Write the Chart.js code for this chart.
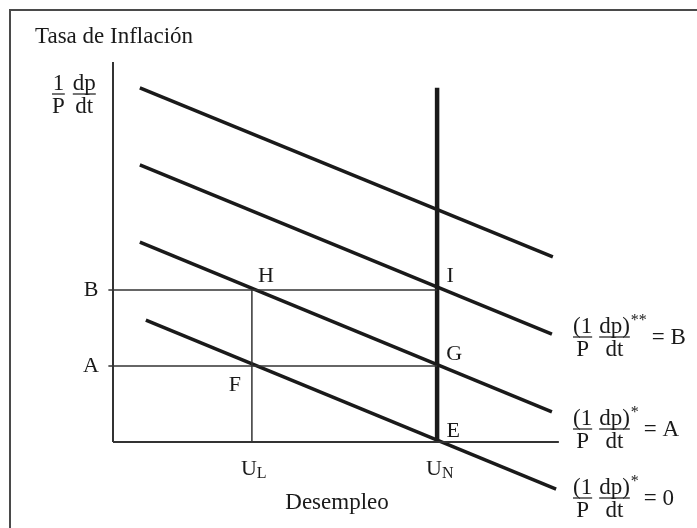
<!DOCTYPE html>
<html>
<head>
<meta charset="utf-8">
<script src="https://cdn.jsdelivr.net/npm/chart.js@4/dist/chart.umd.min.js"></script>
<style>
  html, body { margin: 0; padding: 0; background: #fff; overflow: hidden; }
  canvas { display: block; }
</style>
</head>
<body>
<canvas id="phillips" width="697" height="528"></canvas>
<script>
// Curvas de Phillips (desempleo, inflación)
const curveStartU = [0.58, 0.58, 0.58, 0.71];
const curveStartInfl = [9.32, 7.29, 5.26, 3.21];
const curveEndU = [9.5, 9.48, 9.48, 9.57];
const curveEndInfl = [4.87, 2.84, 0.79, -1.24];

// ejes y niveles
const axisMaxU = 9.63;
const axisMaxInfl = 10;
const naturalTop = 9.32;
const tickStub = -0.1;
const uTickValues = [3, 7];
const uTickSubs = ['L', 'N'];
const inflTickValues = [2, 4];
const inflTickLabels = ['A', 'B'];

// puntos marcados
const pointNames = ['F', 'H', 'G', 'I', 'E'];
const pointU = [3, 3, 7, 7, 7];
const pointInfl = [2, 4, 2, 4, 0];

// expectativas a la derecha
const expectMarks = ['**', '*', '*'];
const expectValues = ['B', 'A', '0'];

const FONT = '"Liberation Serif", "DejaVu Serif", serif';
const INK = '#1a1a1a';

function seg(x0, y0, x1, y1) {
    return [{ x: x0, y: y0 }, { x: x1, y: y1 }];
}

const datasets = [];

// ejes
datasets.push({ data: seg(0, 0, 0, axisMaxInfl), borderColor: '#333', borderWidth: 2 });
datasets.push({ data: seg(0, 0, axisMaxU, 0), borderColor: '#333', borderWidth: 2 });

// guias horizontales A y B hasta U_N
inflTickValues.forEach(v => {
    datasets.push({ data: seg(tickStub, v, uTickValues[1], v), borderColor: '#333', borderWidth: 1.5 });
});
// guia vertical en U_L hasta B
datasets.push({ data: seg(uTickValues[0], 0, uTickValues[0], inflTickValues[1]), borderColor: '#333', borderWidth: 1.5 });

// curvas de Phillips
curveStartU.forEach((u, i) => {
    datasets.push({
        data: seg(u, curveStartInfl[i], curveEndU[i], curveEndInfl[i]),
        borderColor: INK, borderWidth: 3.5
    });
});

// curva de largo plazo en U_N
datasets.push({ data: seg(uTickValues[1], 0, uTickValues[1], naturalTop), borderColor: INK, borderWidth: 4.5 });

datasets.forEach(d => {
    d.showLine = true;
    d.pointRadius = 0;
    d.clip = false;
    d.borderCapStyle = 'butt';
});

function fraction(ctx, left, barY, num, den, size) {
    ctx.font = size + 'px ' + FONT;
    const w = Math.max(ctx.measureText(num).width, ctx.measureText(den).width);
    const cx = left + w / 2;
    ctx.textAlign = 'center';
    ctx.textBaseline = 'alphabetic';
    ctx.fillText(num, cx, barY - 4);
    ctx.fillText(den, cx, barY + 19);
    ctx.fillRect(left, barY - 0.6, w, 1.2);
    return left + w;
}

const annotations = {
    id: 'annotations',
    beforeDraw(chart) {
        const ctx = chart.ctx;
        ctx.save();
        ctx.fillStyle = '#fff';
        ctx.fillRect(0, 0, chart.width, chart.height);
        // marco
        ctx.fillStyle = '#4a4a4a';
        ctx.fillRect(9, 9, chart.width - 9, 2);
        ctx.fillRect(9, 9, 2, chart.height - 9);
        ctx.restore();
    },
    afterDatasetsDraw(chart) {
        const ctx = chart.ctx;
        const xs = chart.scales.x;
        const ys = chart.scales.y;
        ctx.save();
        ctx.fillStyle = INK;

        ctx.font = '23px ' + FONT;
        ctx.textAlign = 'left';
        ctx.textBaseline = 'alphabetic';
        ctx.fillText('Tasa de Inflación', 35, 43);

        // 1/P dp/dt
        let x = fraction(ctx, 52, 94, '1', 'P', 23);
        fraction(ctx, x + 8, 94, 'dp', 'dt', 23);

        // A, B
        ctx.font = '22px ' + FONT;
        ctx.textAlign = 'center';
        ctx.textBaseline = 'middle';
        inflTickValues.forEach((v, i) => {
            ctx.fillText(inflTickLabels[i], xs.getPixelForValue(0) - 22, ys.getPixelForValue(v));
        });

        // puntos
        const offs = { F: [-17, 19], H: [14, -14], G: [17, -12], I: [13, -14], E: [16, -11] };
        pointNames.forEach((n, i) => {
            const px = xs.getPixelForValue(pointU[i]) + offs[n][0];
            const py = ys.getPixelForValue(pointInfl[i]) + offs[n][1];
            ctx.fillText(n, px, py);
        });

        // U_L, U_N
        ctx.textBaseline = 'alphabetic';
        ctx.textAlign = 'left';
        uTickValues.forEach((v, i) => {
            const px = xs.getPixelForValue(v) - 11;
            ctx.font = '22px ' + FONT;
            ctx.fillText('U', px, 475);
            const w = ctx.measureText('U').width;
            ctx.font = '16px ' + FONT;
            ctx.fillText(uTickSubs[i], px + w, 478);
        });

        ctx.font = '23px ' + FONT;
        ctx.textAlign = 'center';
        ctx.fillText('Desempleo', 337, 509);

        // etiquetas de expectativas
        const bars = [337, 429, 498];
        expectMarks.forEach((m, i) => {
            let lx = fraction(ctx, 573, bars[i], '(1', 'P', 23);
            lx = fraction(ctx, lx + 7, bars[i], 'dp)', 'dt', 23);
            ctx.font = '16px ' + FONT;
            ctx.textAlign = 'left';
            ctx.fillText(m, lx + 1, bars[i] - 12);
            const mw = ctx.measureText(m).width;
            ctx.font = '23px ' + FONT;
            ctx.textBaseline = 'middle';
            ctx.fillText('= ' + expectValues[i], lx + mw + 6, bars[i] + 1);
            ctx.textBaseline = 'alphabetic';
        });

        ctx.restore();
    }
};

new Chart(document.getElementById('phillips'), {
    type: 'scatter',
    data: { datasets },
    options: {
        responsive: false,
        animation: false,
        layout: { padding: { left: 113, right: 121, top: 62, bottom: 86 } },
        scales: {
            x: { type: 'linear', min: 0, max: 10, display: false },
            y: { type: 'linear', min: 0, max: 10, display: false }
        },
        plugins: { legend: { display: false }, tooltip: { enabled: false } }
    },
    plugins: [annotations]
});
</script>
</body>
</html>
